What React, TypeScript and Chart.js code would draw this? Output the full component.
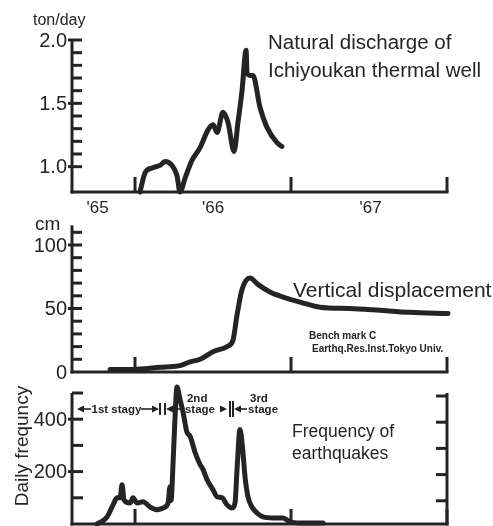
import React, { useEffect, useRef } from "react";
import { Chart, registerables } from "chart.js";

Chart.register(...registerables);

const W = 493;
const H = 526;
const INK = "#242424";
const FONT = "'Liberation Sans', Arial, Helvetica, sans-serif";

// ---- shared time axis (fractional years) ----
const xMin = 1965.596;
const xMax = 1968.0;
const yearBoundaries = [1966, 1967, 1968];
const yearLabels = ["'65", "'66", "'67"];
const yearLabelAt = [1965.76, 1966.5, 1967.51];

// ---- panel 1: natural discharge (ton/day) ----
const dischargeYears = [
  1966.032, 1966.064, 1966.109, 1966.16, 1966.192, 1966.237, 1966.269, 1966.288,
  1966.321, 1966.365, 1966.417, 1966.468, 1966.5, 1966.526, 1966.564, 1966.596,
  1966.635, 1966.66, 1966.686, 1966.712, 1966.718, 1966.737, 1966.756, 1966.801,
  1966.846, 1966.91, 1966.942,
];
const dischargeValues = [
  0.8, 0.95, 0.99, 1.01, 1.04, 1.01, 0.93, 0.8, 0.91, 1.05, 1.15, 1.29, 1.33,
  1.27, 1.43, 1.35, 1.12, 1.35, 1.6, 1.92, 1.74, 1.72, 1.72, 1.47, 1.31, 1.19,
  1.16,
];
const dischargeMinorTicks = [1.0, 1.1, 1.2, 1.3, 1.4, 1.5, 1.6, 1.7, 1.8, 1.9, 2.0];
const dischargeTickValues = [1.0, 1.5, 2.0];
const dischargeTickLabels = ["1.0", "1.5", "2.0"];

// ---- panel 2: vertical displacement (cm) ----
const displacementYears = [
  1965.84, 1965.968, 1966.096, 1966.192, 1966.288, 1966.353, 1966.417, 1966.5,
  1966.59, 1966.628, 1966.654, 1966.686, 1966.737, 1966.788, 1966.865, 1966.949,
  1967.058, 1967.186, 1967.378, 1967.526, 1967.763, 1968.006,
];
const displacementValues = [
  2, 2, 3, 4, 5, 8, 10, 16, 20, 25, 45, 65, 74, 69, 63, 59, 55, 51, 50, 49, 47, 46,
];
const displacementMinorTicks = [10, 20, 30, 40, 50, 60, 70, 80, 90, 100, 110];
const displacementTickValues = [0, 50, 100];
const displacementTickLabels = ["0", "50", "100"];

// ---- panel 3: daily frequency of earthquakes ----
const quakeYears = [
  1965.756, 1965.821, 1965.859, 1965.885, 1965.904, 1965.917, 1965.929, 1965.968,
  1965.987, 1966.013, 1966.051, 1966.096, 1966.141, 1966.179, 1966.212, 1966.224,
  1966.231, 1966.244, 1966.256, 1966.269, 1966.288, 1966.308, 1966.333, 1966.353,
  1966.385, 1966.417, 1966.436, 1966.462, 1966.5, 1966.526, 1966.558, 1966.59,
  1966.622, 1966.641, 1966.654, 1966.673, 1966.692, 1966.705, 1966.724, 1966.75,
  1966.782, 1966.821, 1966.885, 1966.949, 1966.994, 1967.058, 1967.205,
];
const quakeValues = [
  0, 27, 73, 100, 100, 150, 92, 80, 100, 80, 85, 65, 54, 61, 80, 142, 90, 234,
  400, 523, 477, 427, 350, 335, 273, 227, 208, 169, 131, 104, 100, 73, 61, 80,
  208, 361, 273, 181, 104, 65, 42, 27, 23, 23, 8, 4, 4,
];
const quakeMinorTicks = [100, 200, 300, 400, 500];
const quakeTickValues = [200, 400];
const quakeTickLabels = ["200", "400"];
const stageBounds = [1965.628, 1966.16, 1966.192, 1966.609, 1966.628];

type Panel = {
  id: string;
  top: number;
  bottom: number;
  yMin: number;
  yMax: number;
  axisTop: number;
  years: number[];
  values: number[];
  minor: number[];
  labelVals: number[];
  labelTexts: string[];
  tickIn: number;
  rightAxis?: boolean;
  extra?: (chart: any) => void;
};

function seg(ctx: CanvasRenderingContext2D, x1: number, y1: number, x2: number, y2: number) {
  ctx.beginPath();
  ctx.moveTo(x1, y1);
  ctx.lineTo(x2, y2);
  ctx.stroke();
}

function text(ctx: CanvasRenderingContext2D, s: string, x: number, y: number, font: string, align: CanvasTextAlign = "left") {
  ctx.font = font;
  ctx.textAlign = align;
  ctx.textBaseline = "alphabetic";
  ctx.fillStyle = INK;
  ctx.fillText(s, x, y);
}

function arrowHead(ctx: CanvasRenderingContext2D, tipX: number, y: number, dir: number) {
  ctx.beginPath();
  ctx.moveTo(tipX, y);
  ctx.lineTo(tipX - dir * 7, y - 3.5);
  ctx.lineTo(tipX - dir * 7, y + 3.5);
  ctx.closePath();
  ctx.fill();
}

function makePlugin(p: Panel) {
  return {
    id: "paper_" + p.id,
    beforeDatasetsDraw(chart: any) {
      const ctx: CanvasRenderingContext2D = chart.ctx;
      const xs = chart.scales.x;
      const ys = chart.scales.y;
      const x0 = xs.getPixelForValue(xMin);
      const x1 = xs.getPixelForValue(xMax);
      const yb = ys.getPixelForValue(p.yMin);
      const yt = ys.getPixelForValue(p.axisTop);
      ctx.save();
      ctx.strokeStyle = INK;
      ctx.fillStyle = INK;
      ctx.lineWidth = 3;
      ctx.lineCap = "butt";
      seg(ctx, x0, yt, x0, yb + 1.5);
      seg(ctx, x0 - 1.5, yb, x1 + 1.5, yb);
      for (const yr of yearBoundaries) {
        const px = xs.getPixelForValue(yr);
        seg(ctx, px, yb, px, yb - 15);
      }
      for (const v of p.minor) {
        const py = ys.getPixelForValue(v);
        seg(ctx, x0, py, x0 + p.tickIn, py);
      }
      p.labelVals.forEach((v, i) => {
        const py = ys.getPixelForValue(v);
        if (v !== p.yMin) seg(ctx, x0 - 4, py, x0, py);
        ctx.font = "20px " + FONT;
        ctx.textAlign = "right";
        ctx.textBaseline = "middle";
        ctx.fillText(p.labelTexts[i], x0 - 5, py + 1);
      });
      if (p.rightAxis) {
        seg(ctx, x1, yt, x1, yb + 1.5);
        for (const v of p.minor) {
          const py = ys.getPixelForValue(v) + 3;
          seg(ctx, x1 - 11, py, x1, py);
        }
      }
      ctx.restore();
    },
    afterDraw(chart: any) {
      if (p.extra) {
        chart.ctx.save();
        p.extra(chart);
        chart.ctx.restore();
      }
    },
  };
}

const panels: Panel[] = [
  {
    id: "discharge",
    top: 40,
    bottom: 192,
    yMin: 0.8,
    yMax: 2.0,
    axisTop: 2.0,
    years: dischargeYears,
    values: dischargeValues,
    minor: dischargeMinorTicks,
    labelVals: dischargeTickValues,
    labelTexts: dischargeTickLabels,
    tickIn: 10,
    extra: (chart) => {
      const ctx: CanvasRenderingContext2D = chart.ctx;
      const xs = chart.scales.x;
      text(ctx, "ton/day", 33, 25, "16px " + FONT);
      text(ctx, "Natural discharge of", 268, 49, "20.5px " + FONT);
      text(ctx, "Ichiyoukan thermal well", 268, 77, "20.5px " + FONT);
      yearLabels.forEach((l, i) => {
        text(ctx, l, xs.getPixelForValue(yearLabelAt[i]), 213, "17px " + FONT, "center");
      });
    },
  },
  {
    id: "displacement",
    top: 245,
    bottom: 372,
    yMin: 0,
    yMax: 100,
    axisTop: 115.5,
    years: displacementYears,
    values: displacementValues,
    minor: displacementMinorTicks,
    labelVals: displacementTickValues,
    labelTexts: displacementTickLabels,
    tickIn: 10,
    extra: (chart) => {
      const ctx: CanvasRenderingContext2D = chart.ctx;
      text(ctx, "cm", 35, 230, "19px " + FONT);
      text(ctx, "Vertical displacement", 293, 297, "21px " + FONT);
      text(ctx, "Bench mark C", 309, 339, "bold 10px " + FONT);
      text(ctx, "Earthq.Res.Inst.Tokyo Univ.", 312, 352, "bold 10px " + FONT);
    },
  },
  {
    id: "quakes",
    top: 393,
    bottom: 524,
    yMin: 0,
    yMax: 500,
    axisTop: 500,
    years: quakeYears,
    values: quakeValues,
    minor: quakeMinorTicks,
    labelVals: quakeTickValues,
    labelTexts: quakeTickLabels,
    tickIn: 11,
    rightAxis: true,
    extra: (chart) => {
      const ctx: CanvasRenderingContext2D = chart.ctx;
      const xs = chart.scales.x;
      ctx.strokeStyle = INK;
      ctx.fillStyle = INK;
      const b = stageBounds.map((v) => xs.getPixelForValue(v));
      const ay = 409;
      const bold = "bold 11.5px " + FONT;
      ctx.lineWidth = 1.6;
      // 1st stage
      arrowHead(ctx, b[0], ay, -1);
      seg(ctx, b[0] + 5, ay, b[0] + 14, ay);
      text(ctx, "1st stagy", (b[0] + b[1]) / 2 - 2, ay + 4, bold, "center");
      seg(ctx, b[1] - 19, ay, b[1] - 5, ay);
      arrowHead(ctx, b[1] - 1, ay, 1);
      ctx.lineWidth = 2;
      seg(ctx, b[1], ay - 6, b[1], ay + 6);
      // 2nd stage
      seg(ctx, b[2], ay - 6, b[2], ay + 6);
      arrowHead(ctx, b[2] + 1, ay, -1);
      ctx.lineWidth = 1.6;
      seg(ctx, b[2] + 5, ay, b[2] + 19, ay);
      text(ctx, "2nd", b[2] + 22, ay - 7, bold);
      text(ctx, "stage", b[2] + 20, ay + 4, bold);
      arrowHead(ctx, b[3] - 3, ay, 1);
      ctx.lineWidth = 2;
      seg(ctx, b[3], ay - 8, b[3], ay + 8);
      // 3rd stage
      seg(ctx, b[4], ay - 8, b[4], ay + 8);
      arrowHead(ctx, b[4] + 1, ay, -1);
      ctx.lineWidth = 1.6;
      seg(ctx, b[4] + 5, ay, b[4] + 14, ay);
      text(ctx, "3rd", b[4] + 17, ay - 7, bold);
      text(ctx, "stage", b[4] + 15, ay + 4, bold);
      // labels
      text(ctx, "Frequency of", 292, 437, "17.5px " + FONT);
      text(ctx, "earthquakes", 292, 459, "17.5px " + FONT);
      ctx.save();
      ctx.translate(28, 446);
      ctx.rotate(-Math.PI / 2);
      text(ctx, "Daily frequncy", 0, 0, "19px " + FONT, "center");
      ctx.restore();
    },
  },
];

function PanelChart({ p }: { p: Panel }) {
  const ref = useRef<HTMLCanvasElement | null>(null);
  useEffect(() => {
    if (!ref.current) return;
    const chart = new Chart(ref.current, {
      type: "line",
      data: {
        datasets: [
          {
            data: p.years.map((x, i) => ({ x, y: p.values[i] })),
            borderColor: INK,
            borderWidth: 5,
            pointRadius: 0,
            cubicInterpolationMode: "monotone",
            borderCapStyle: "round",
            borderJoinStyle: "round",
            fill: false,
            clip: false as any,
          },
        ],
      },
      options: {
        animation: false,
        responsive: false,
        devicePixelRatio: 1,
        events: [],
        layout: {
          padding: { left: 72, right: W - 447, top: p.top, bottom: H - p.bottom },
        },
        scales: {
          x: { type: "linear", min: xMin, max: xMax, display: false },
          y: { type: "linear", min: p.yMin, max: p.yMax, display: false },
        },
        plugins: { legend: { display: false }, tooltip: { enabled: false }, title: { display: false } },
      },
      plugins: [makePlugin(p)],
    });
    return () => chart.destroy();
  }, [p]);
  return (
    <canvas
      ref={ref}
      width={W}
      height={H}
      style={{ position: "absolute", left: 0, top: 0, width: W, height: H }}
    />
  );
}

export default function App() {
  useEffect(() => {
    document.body.style.margin = "0";
  }, []);
  return (
    <div style={{ position: "relative", width: W, height: H, background: "#ffffff", overflow: "hidden" }}>
      {panels.map((p) => (
        <PanelChart key={p.id} p={p} />
      ))}
    </div>
  );
}
